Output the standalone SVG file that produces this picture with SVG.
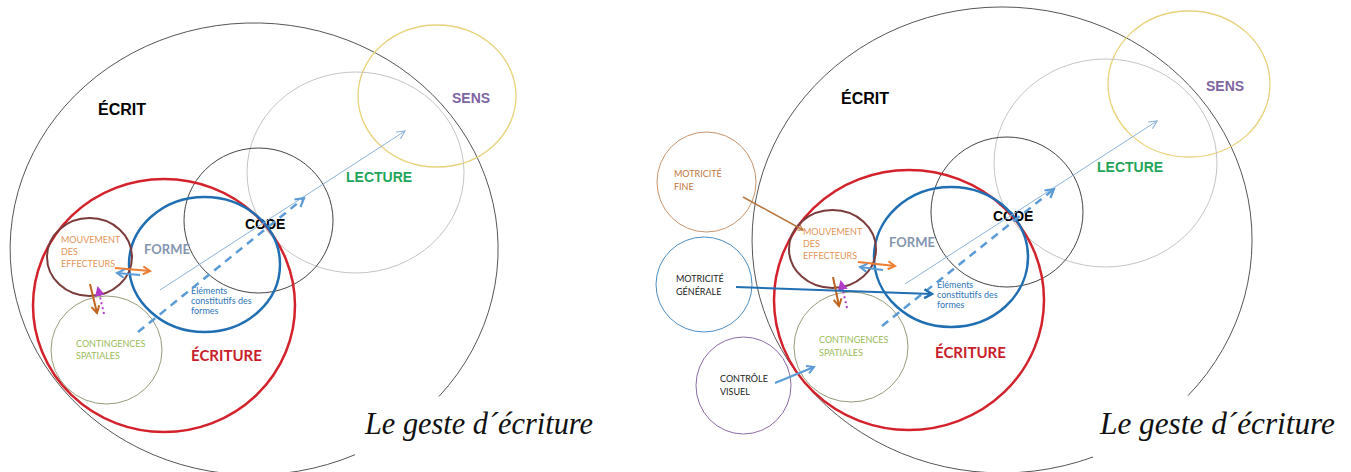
<svg xmlns="http://www.w3.org/2000/svg" width="1351" height="472" viewBox="0 0 1351 472">
<style>
text{font-family:"Lato","Liberation Sans",sans-serif}
.c{fill:none}
.h{font-family:"Liberation Sans",Arial,sans-serif;font-weight:bold}
.ecrit{stroke:#555;stroke-width:1}
.sens{stroke:#e8d27c;stroke-width:1.3}
.lect{stroke:#c4c4c4;stroke-width:1}
.code{stroke:#444;stroke-width:1}
.red{stroke:#d3222c;stroke-width:2.5}
.blue{stroke:#1f6fb2;stroke-width:2.5}
.brown{stroke:#7a3c3a;stroke-width:2}
.cont{stroke:#959c78;stroke-width:1}
.mf{stroke:#c9956c;stroke-width:1}
.mg{stroke:#4c8dc0;stroke-width:1}
.cv{stroke:#8a6aa8;stroke-width:1}
.sm{font-size:9px}
.t-sens{fill:#8064a2;font-size:14px}
.t-lect{fill:#1fa55a;font-size:14px}
.t-code{fill:#000;font-size:14px}
.t-ecrit{fill:#000;font-size:16px}
.t-ecriture{fill:#c8202a;font-size:15px;font-weight:bold}
.t-forme{fill:#8496b0;font-size:13px;font-weight:bold}
.t-mouv{fill:#e39458}
.t-elem{fill:#2e75b6}
.t-cont{fill:#9bbb59}
.t-mf{fill:#c0743e}
.t-blk{fill:#222}
.hand{font-family:"Liberation Serif",serif;font-style:italic;font-size:32px;fill:#111}
.thin{stroke:#8db3d9;stroke-width:1;fill:none}
.dash{stroke:#5b9bd5;stroke-width:2.5;stroke-dasharray:8 6;fill:none}
.orange{stroke:#ed7d31;stroke-width:2;fill:none}
.lblue{stroke:#5b9bd5;stroke-width:2;fill:none}
.dbrown{stroke:#c0651f;stroke-width:2;fill:none}
.purple{stroke:#b03cc8;stroke-width:2;stroke-dasharray:2 3;fill:none}
.navy{stroke:#1f6fb2;stroke-width:2;fill:none}
.fine{stroke:#b9773f;stroke-width:1.5;fill:none}
</style>
<defs>
<marker id="a-thin" viewBox="0 0 10 10" refX="9" refY="5" markerWidth="10" markerHeight="10" markerUnits="userSpaceOnUse" orient="auto"><path d="M1,1 L9,5 L1,9" fill="none" stroke="#8db3d9" stroke-width="1.2"/></marker>
<marker id="a-dash" viewBox="0 0 10 10" refX="8" refY="5" markerWidth="12" markerHeight="12" markerUnits="userSpaceOnUse" orient="auto"><path d="M1,1 L8,5 L1,9" fill="none" stroke="#5b9bd5" stroke-width="1.8"/></marker>
<marker id="a-or" viewBox="0 0 10 10" refX="8" refY="5" markerWidth="10" markerHeight="10" markerUnits="userSpaceOnUse" orient="auto"><path d="M1,1 L8,5 L1,9" fill="none" stroke="#ed7d31" stroke-width="2"/></marker>
<marker id="a-lb" viewBox="0 0 10 10" refX="8" refY="5" markerWidth="10" markerHeight="10" markerUnits="userSpaceOnUse" orient="auto"><path d="M1,1 L8,5 L1,9" fill="none" stroke="#5b9bd5" stroke-width="2"/></marker>
<marker id="a-br" viewBox="0 0 10 10" refX="8" refY="5" markerWidth="10" markerHeight="10" markerUnits="userSpaceOnUse" orient="auto"><path d="M1,1 L8,5 L1,9" fill="none" stroke="#c0651f" stroke-width="2"/></marker>
<marker id="a-pu" viewBox="0 0 10 10" refX="8" refY="5" markerWidth="10" markerHeight="10" markerUnits="userSpaceOnUse" orient="auto"><path d="M0,0 L10,5 L0,10 Z" fill="#b03cc8"/></marker>
<marker id="a-nv" viewBox="0 0 10 10" refX="8" refY="5" markerWidth="11" markerHeight="11" markerUnits="userSpaceOnUse" orient="auto"><path d="M1,1 L8,5 L1,9" fill="none" stroke="#1f6fb2" stroke-width="2.2"/></marker>
<marker id="a-fi" viewBox="0 0 10 10" refX="8" refY="5" markerWidth="7" markerHeight="7" markerUnits="userSpaceOnUse" orient="auto"><path d="M1,1 L8,5 L1,9" fill="none" stroke="#b9773f" stroke-width="1.6"/></marker>
</defs>
<rect width="1351" height="472" fill="#fff"/>

<!-- LEFT PANEL -->
<g id="L-ecrit"><path class="c ecrit" d="M439,396.4 A244,226 0 1 0 355,454.7"/><text class="h t-ecrit" x="98" y="115">ÉCRIT</text></g>
<g id="L-sens"><ellipse class="c sens" cx="437" cy="96" rx="79" ry="71"/><text class="h t-sens" x="452" y="103">SENS</text></g>
<g id="L-lecture"><ellipse class="c lect" cx="355.5" cy="172.5" rx="108.5" ry="100.5"/><text class="h t-lect" x="346" y="182">LECTURE</text></g>
<g id="L-code"><ellipse class="c code" cx="258.5" cy="220.5" rx="74.5" ry="72.5"/><text class="h t-code" x="245" y="229">CODE</text></g>
<g id="L-ecriture"><ellipse class="c red" cx="164" cy="305.5" rx="131" ry="126.5"/><text class="t-ecriture" x="191" y="361">ÉCRITURE</text></g>
<g id="L-forme"><ellipse class="c blue" cx="204.5" cy="264.5" rx="75.5" ry="67.5"/><text class="t-forme" x="144" y="254">FORME</text>
<text class="sm t-elem" x="191" y="294">Eléments</text><text class="sm t-elem" x="191" y="304">constitutifs des</text><text class="sm t-elem" x="191" y="314">formes</text></g>
<g id="L-mouvement"><ellipse class="c brown" cx="89.5" cy="257" rx="42.5" ry="39"/><text class="sm t-mouv" x="61" y="243">MOUVEMENT</text><text class="sm t-mouv" x="61" y="255">DES</text><text class="sm t-mouv" x="61" y="267">EFFECTEURS</text></g>
<g id="L-contingences"><ellipse class="c cont" cx="106.5" cy="350" rx="55.5" ry="54"/><text class="sm t-cont" x="76" y="347">CONTINGENCES</text><text class="sm t-cont" x="76" y="359">SPATIALES</text></g>
<text class="hand" x="365" y="434" textLength="228" lengthAdjust="spacingAndGlyphs">Le geste d´écriture</text>

<!-- RIGHT PANEL -->
<g id="R-ecrit"><path class="c ecrit" d="M1188,395.7 A250,233 0 1 0 1093,457"/><text class="h t-ecrit" x="841" y="104">ÉCRIT</text></g>
<g id="R-sens"><ellipse class="c sens" cx="1189" cy="84" rx="81" ry="73"/><text class="h t-sens" x="1206" y="91">SENS</text></g>
<g id="R-lecture"><ellipse class="c lect" cx="1105.5" cy="163" rx="111.5" ry="104"/><text class="h t-lect" x="1097" y="172">LECTURE</text></g>
<g id="R-code"><ellipse class="c code" cx="1007" cy="212" rx="76" ry="75"/><text class="h t-code" x="993" y="221">CODE</text></g>
<g id="R-ecriture"><ellipse class="c red" cx="909" cy="300" rx="135" ry="130"/><text class="t-ecriture" x="935" y="358">ÉCRITURE</text></g>
<g id="R-forme"><ellipse class="c blue" cx="951" cy="257" rx="77" ry="70"/><text class="t-forme" x="889" y="247">FORME</text>
<text class="sm t-elem" x="937" y="288">Eléments</text><text class="sm t-elem" x="937" y="298">constitutifs des</text><text class="sm t-elem" x="937" y="308">formes</text></g>
<g id="R-mouvement"><ellipse class="c brown" cx="832.5" cy="249" rx="43.5" ry="39"/><text class="sm t-mouv" x="803" y="235">MOUVEMENT</text><text class="sm t-mouv" x="803" y="247">DES</text><text class="sm t-mouv" x="803" y="259">EFFECTEURS</text></g>
<g id="R-contingences"><ellipse class="c cont" cx="851" cy="347" rx="57" ry="55"/><text class="sm t-cont" x="819" y="343">CONTINGENCES</text><text class="sm t-cont" x="819" y="356">SPATIALES</text></g>
<g id="R-motricite-fine"><ellipse class="c mf" cx="706.5" cy="182" rx="49.5" ry="50"/><text class="sm t-mf" x="674" y="177">MOTRICITÉ</text><text class="sm t-mf" x="674" y="190">FINE</text></g>
<g id="R-motricite-generale"><ellipse class="c mg" cx="704" cy="284.5" rx="48" ry="47.5"/><text class="sm t-blk" x="676" y="282">MOTRICITÉ</text><text class="sm t-blk" x="676" y="295">GÉNÉRALE</text></g>
<g id="R-controle-visuel"><ellipse class="c cv" cx="743.5" cy="385.5" rx="47.5" ry="48.5"/><text class="sm t-blk" x="720" y="382">CONTRÔLE</text><text class="sm t-blk" x="720" y="395">VISUEL</text></g>
<text class="hand" x="1100" y="434" textLength="235" lengthAdjust="spacingAndGlyphs">Le geste d´écriture</text>

<g id="connectors">
<line class="thin" x1="160" y1="290" x2="405" y2="131" marker-end="url(#a-thin)"/>
<line class="dash" x1="138" y1="332" x2="304" y2="198" marker-end="url(#a-dash)"/>
<line class="orange" x1="115" y1="268" x2="150" y2="271" marker-end="url(#a-or)"/>
<line class="lblue" x1="140" y1="275" x2="117" y2="273" marker-end="url(#a-lb)"/>
<line class="dbrown" x1="90" y1="284" x2="97" y2="313" marker-end="url(#a-br)"/>
<line class="purple" x1="104" y1="314" x2="98" y2="288" marker-end="url(#a-pu)"/>

<line class="thin" x1="905" y1="284" x2="1157" y2="121" marker-end="url(#a-thin)"/>
<line class="dash" x1="882" y1="326" x2="1054" y2="189" marker-end="url(#a-dash)"/>
<line class="orange" x1="858" y1="262" x2="895" y2="266" marker-end="url(#a-or)"/>
<line class="lblue" x1="883" y1="270" x2="860" y2="267" marker-end="url(#a-lb)"/>
<line class="dbrown" x1="833" y1="277" x2="839" y2="306" marker-end="url(#a-br)"/>
<line class="purple" x1="847" y1="308" x2="841" y2="282" marker-end="url(#a-pu)"/>
<line class="fine" x1="743" y1="197" x2="803" y2="230" marker-end="url(#a-fi)"/>
<line class="navy" x1="736" y1="287" x2="932" y2="294" marker-end="url(#a-nv)"/>
<line class="lblue" x1="775" y1="383" x2="814" y2="367" marker-end="url(#a-lb)"/>
</g>
</svg>
